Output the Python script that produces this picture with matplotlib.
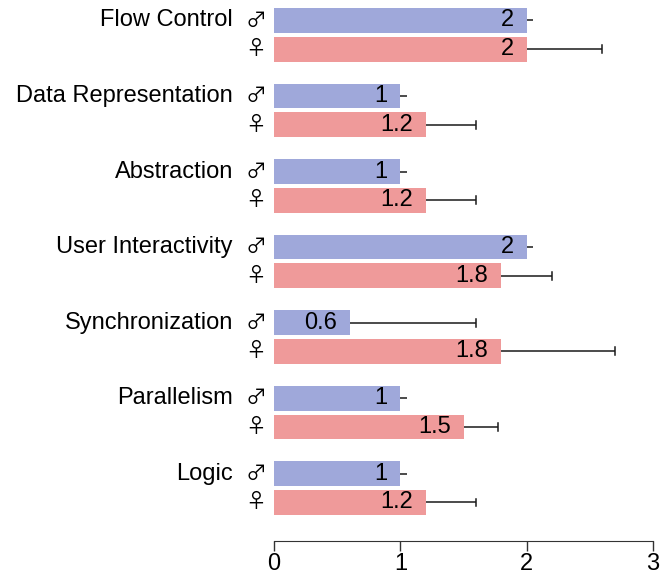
import matplotlib
matplotlib.use("Agg")
import matplotlib.pyplot as plt
from matplotlib.transforms import offset_copy

plt.rcParams['font.family'] = ['Liberation Sans', 'DejaVu Sans']

categories = ["Flow Control", "Data Representation", "Abstraction",
              "User Interactivity", "Synchronization", "Parallelism", "Logic"]
male_mean = [2, 1, 1, 2, 0.6, 1, 1]
male_upper = [2.05, 1.05, 1.05, 2.05, 1.6, 1.05, 1.05]
female_mean = [2, 1.2, 1.2, 1.8, 1.8, 1.5, 1.2]
female_upper = [2.6, 1.6, 1.6, 2.2, 2.7, 1.77, 1.6]
value_labels_m = ["2", "1", "1", "2", "0.6", "1", "1"]
value_labels_f = ["2", "1.2", "1.2", "1.8", "1.8", "1.5", "1.2"]
xticks = [0, 1, 2, 3]

male_color = "#9FA8DA"
female_color = "#EF9A9A"

W, H = 672, 575
fig = plt.figure(figsize=(W / 100, H / 100), dpi=100)
ax = fig.add_axes([274 / W, 1 - 541 / H, 379 / W, (541 - 8) / H])

group_step = 3.04
pair_gap = 1.16
ym = [i * group_step for i in range(len(categories))]
yf = [y + pair_gap for y in ym]

ax.barh(ym, male_mean, height=1.0, color=male_color, left=0)
ax.barh(yf, female_mean, height=1.0, color=female_color, left=0)

def whiskers(ys, means, uppers):
    for y, m, u in zip(ys, means, uppers):
        ax.plot([m, u], [y, y], color="#1a1a1a", lw=1.1, solid_capstyle="butt")
        if u - m > 0.1:
            ax.plot([u, u], [y - 0.16, y + 0.16], color="#1a1a1a", lw=1.1)

whiskers(ym, male_mean, male_upper)
whiskers(yf, female_mean, female_upper)

fs = 17
lab_off = offset_copy(ax.transData, fig=fig, x=-13, y=0, units="dots")
for y, m, t in zip(ym, male_mean, value_labels_m):
    ax.text(m, y, t, transform=lab_off, ha="right", va="center", fontsize=fs)
for y, m, t in zip(yf, female_mean, value_labels_f):
    ax.text(m, y, t, transform=lab_off, ha="right", va="center", fontsize=fs)

blend = matplotlib.transforms.blended_transform_factory(ax.transAxes, ax.transData)
sym_tr = offset_copy(blend, fig=fig, x=-18, y=0, units="dots")
cat_tr = offset_copy(blend, fig=fig, x=-41, y=0, units="dots")
sym_family = ["Noto Sans CJK JP", "DejaVu Sans"]
for y1, y2, c in zip(ym, yf, categories):
    ax.text(0, y1, "\u2642", transform=sym_tr, ha="center", va="center",
            fontsize=15, family=sym_family)
    ax.text(0, y2, "\u2640", transform=sym_tr, ha="center", va="center",
            fontsize=15, family=sym_family)
    ax.text(0, y1, c, transform=cat_tr, ha="right", va="center", fontsize=fs)

ax.set_xlim(0, 3)
ax.set_ylim(yf[-1] + 0.5 + 1.05, -0.5)
for s in ["top", "right", "left"]:
    ax.spines[s].set_visible(False)
ax.spines["bottom"].set_color("#333333")
ax.set_yticks([])
ax.set_xticks(xticks)
ax.set_xticklabels([str(t) for t in xticks], fontsize=fs)
ax.tick_params(axis="x", length=7, width=1, colors="#333333", labelcolor="black", pad=2)

fig.savefig("out.png", dpi=100)
